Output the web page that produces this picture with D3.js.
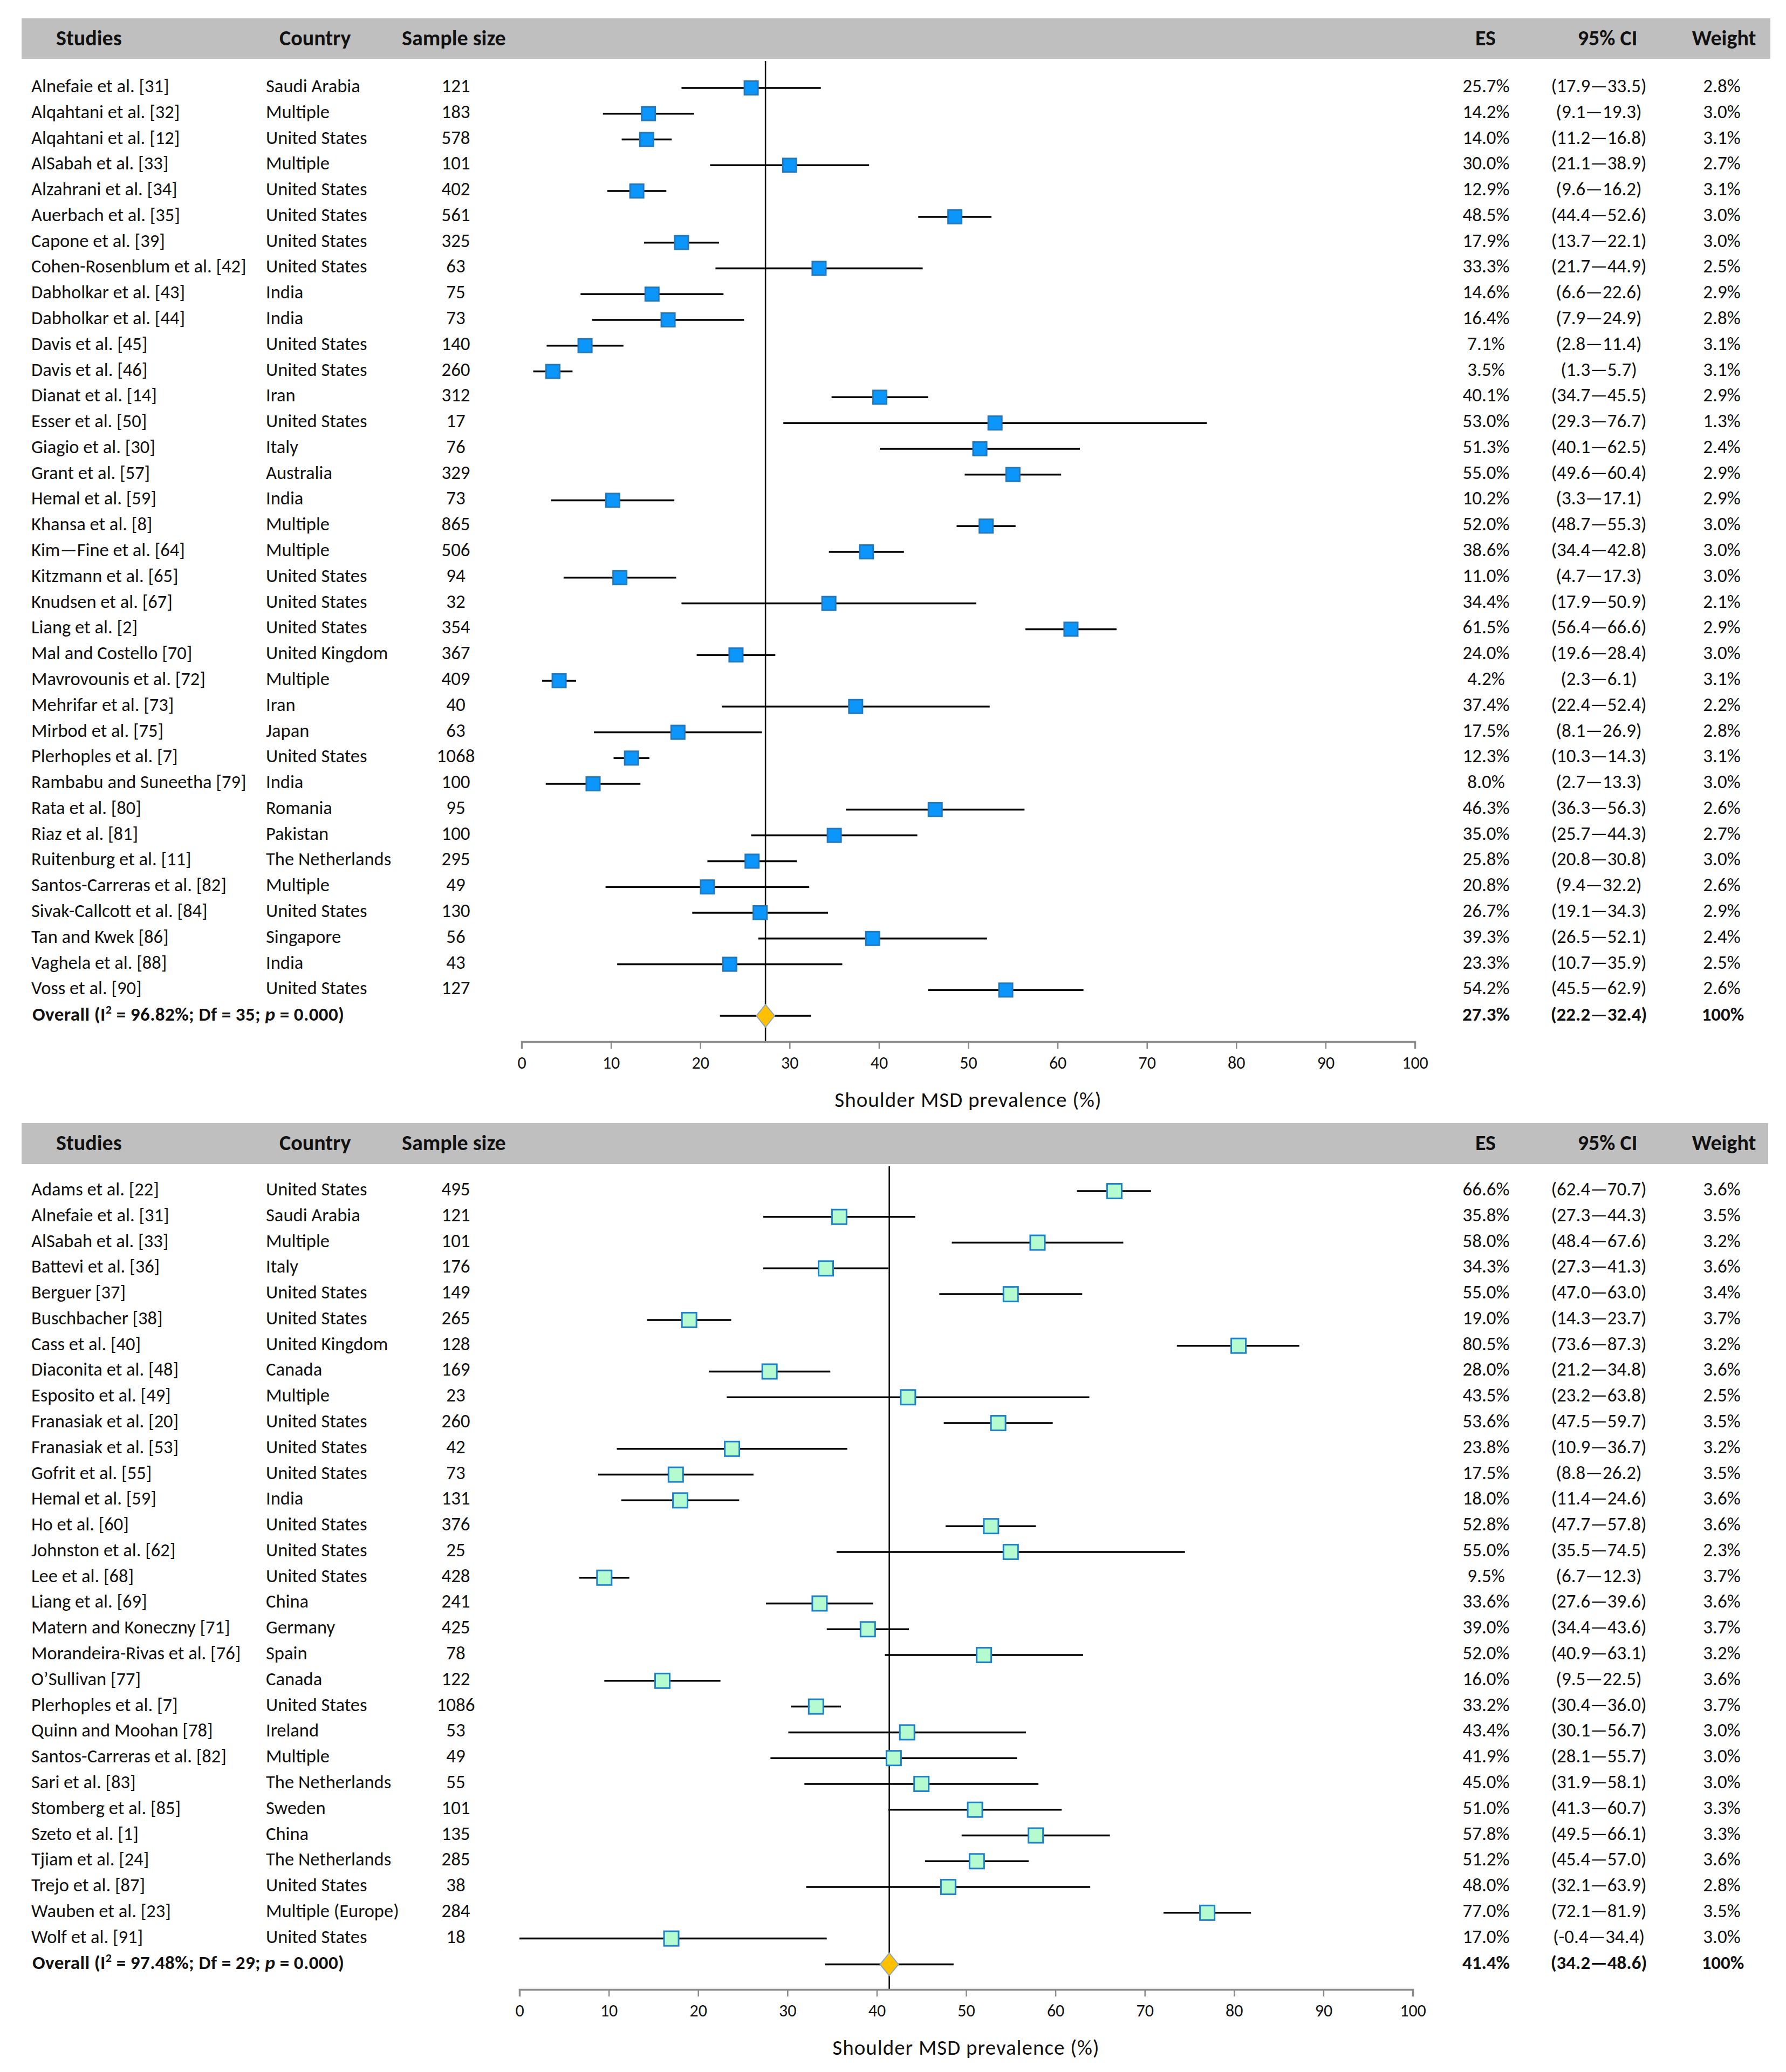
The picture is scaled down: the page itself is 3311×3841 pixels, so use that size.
<!DOCTYPE html>
<html>
<head>
<meta charset="utf-8">
<script src="https://cdn.jsdelivr.net/npm/d3@7"></script>
<style>
  body { margin: 0; background: #fff; }
  text { font-family: Carlito, Lato, sans-serif; fill: #111; }
</style>
</head>
<body>
<svg width="3311" height="3841"></svg>
<script>
// ---- panel 1 data ----
var studiesA = ["Alnefaie et al. [31]", "Alqahtani et al. [32]", "Alqahtani et al. [12]", "AlSabah et al. [33]",
  "Alzahrani et al. [34]", "Auerbach et al. [35]", "Capone et al. [39]", "Cohen-Rosenblum et al. [42]",
  "Dabholkar et al. [43]", "Dabholkar et al. [44]", "Davis et al. [45]", "Davis et al. [46]", "Dianat et al. [14]",
  "Esser et al. [50]", "Giagio  et al. [30]", "Grant et al. [57]", "Hemal et al. [59]", "Khansa et al. [8]",
  "Kim\u2014Fine et al. [64]", "Kitzmann et al. [65]", "Knudsen et al. [67]", "Liang et al. [2]",
  "Mal and Costello [70]", "Mavrovounis et al. [72]", "Mehrifar et al. [73]", "Mirbod et al. [75]",
  "Plerhoples et al. [7]", "Rambabu and Suneetha [79]", "Rata et al. [80]", "Riaz et al. [81]",
  "Ruitenburg et al. [11]", "Santos-Carreras et al. [82]", "Sivak-Callcott et al. [84]", "Tan and Kwek [86]",
  "Vaghela et al. [88]", "Voss et al. [90]"];
var countriesA = ["Saudi Arabia", "Multiple", "United States", "Multiple", "United States", "United States",
  "United States", "United States", "India", "India", "United States", "United States", "Iran", "United States",
  "Italy", "Australia", "India", "Multiple", "Multiple", "United States", "United States", "United States",
  "United Kingdom", "Multiple", "Iran", "Japan", "United States", "India", "Romania", "Pakistan",
  "The Netherlands", "Multiple", "United States", "Singapore", "India", "United States"];
var sizesA = [121, 183, 578, 101, 402, 561, 325, 63, 75, 73, 140, 260, 312, 17, 76, 329, 73, 865, 506, 94, 32,
  354, 367, 409, 40, 63, 1068, 100, 95, 100, 295, 49, 130, 56, 43, 127];
var esA = [25.7, 14.2, 14.0, 30.0, 12.9, 48.5, 17.9, 33.3, 14.6, 16.4, 7.1, 3.5, 40.1, 53.0, 51.3, 55.0, 10.2,
  52.0, 38.6, 11.0, 34.4, 61.5, 24.0, 4.2, 37.4, 17.5, 12.3, 8.0, 46.3, 35.0, 25.8, 20.8, 26.7, 39.3, 23.3, 54.2];
var loA = [17.9, 9.1, 11.2, 21.1, 9.6, 44.4, 13.7, 21.7, 6.6, 7.9, 2.8, 1.3, 34.7, 29.3, 40.1, 49.6, 3.3,
  48.7, 34.4, 4.7, 17.9, 56.4, 19.6, 2.3, 22.4, 8.1, 10.3, 2.7, 36.3, 25.7, 20.8, 9.4, 19.1, 26.5, 10.7, 45.5];
var hiA = [33.5, 19.3, 16.8, 38.9, 16.2, 52.6, 22.1, 44.9, 22.6, 24.9, 11.4, 5.7, 45.5, 76.7, 62.5, 60.4, 17.1,
  55.3, 42.8, 17.3, 50.9, 66.6, 28.4, 6.1, 52.4, 26.9, 14.3, 13.3, 56.3, 44.3, 30.8, 32.2, 34.3, 52.1, 35.9, 62.9];
var weightA = [2.8, 3.0, 3.1, 2.7, 3.1, 3.0, 3.0, 2.5, 2.9, 2.8, 3.1, 3.1, 2.9, 1.3, 2.4, 2.9, 2.9, 3.0, 3.0,
  3.0, 2.1, 2.9, 3.0, 3.1, 2.2, 2.8, 3.1, 3.0, 2.6, 2.7, 3.0, 2.6, 2.9, 2.4, 2.5, 2.6];
var overallA = { es: 27.3, lo: 22.2, hi: 32.4, i2: "96.82%", df: 35, p: "0.000" };

// ---- panel 2 data ----
var studiesB = ["Adams et al. [22]", "Alnefaie et al. [31]", "AlSabah et al. [33]", "Battevi et al. [36]",
  "Berguer [37]", "Buschbacher [38]", "Cass et al. [40]", "Diaconita et al. [48]", "Esposito et al. [49]",
  "Franasiak et al. [20]", "Franasiak et al. [53]", "Gofrit et al. [55]", "Hemal et al. [59]", "Ho et al. [60]",
  "Johnston et al. [62]", "Lee et al. [68]", "Liang et al. [69]", "Matern and Koneczny [71]",
  "Morandeira-Rivas et al. [76]", "O\u2019Sullivan [77]", "Plerhoples et al. [7]", "Quinn and Moohan [78]",
  "Santos-Carreras et al. [82]", "Sari et al. [83]", "Stomberg et al. [85]", "Szeto et al. [1]",
  "Tjiam et al. [24]", "Trejo et al. [87]", "Wauben et al. [23]", "Wolf et al. [91]"];
var countriesB = ["United States", "Saudi Arabia", "Multiple", "Italy", "United States", "United States",
  "United Kingdom", "Canada", "Multiple", "United States", "United States", "United States", "India",
  "United States", "United States", "United States", "China", "Germany", "Spain", "Canada", "United States",
  "Ireland", "Multiple", "The Netherlands", "Sweden", "China", "The Netherlands", "United States",
  "Multiple (Europe)", "United States"];
var sizesB = [495, 121, 101, 176, 149, 265, 128, 169, 23, 260, 42, 73, 131, 376, 25, 428, 241, 425, 78, 122,
  1086, 53, 49, 55, 101, 135, 285, 38, 284, 18];
var esB = [66.6, 35.8, 58.0, 34.3, 55.0, 19.0, 80.5, 28.0, 43.5, 53.6, 23.8, 17.5, 18.0, 52.8, 55.0, 9.5, 33.6,
  39.0, 52.0, 16.0, 33.2, 43.4, 41.9, 45.0, 51.0, 57.8, 51.2, 48.0, 77.0, 17.0];
var loB = [62.4, 27.3, 48.4, 27.3, 47.0, 14.3, 73.6, 21.2, 23.2, 47.5, 10.9, 8.8, 11.4, 47.7, 35.5, 6.7, 27.6,
  34.4, 40.9, 9.5, 30.4, 30.1, 28.1, 31.9, 41.3, 49.5, 45.4, 32.1, 72.1, -0.4];
var hiB = [70.7, 44.3, 67.6, 41.3, 63.0, 23.7, 87.3, 34.8, 63.8, 59.7, 36.7, 26.2, 24.6, 57.8, 74.5, 12.3, 39.6,
  43.6, 63.1, 22.5, 36.0, 56.7, 55.7, 58.1, 60.7, 66.1, 57.0, 63.9, 81.9, 34.4];
var weightB = [3.6, 3.5, 3.2, 3.6, 3.4, 3.7, 3.2, 3.6, 2.5, 3.5, 3.2, 3.5, 3.6, 3.6, 2.3, 3.7, 3.6, 3.7, 3.2,
  3.6, 3.7, 3.0, 3.0, 3.0, 3.3, 3.3, 3.6, 2.8, 3.5, 3.0];
var overallB = { es: 41.4, lo: 34.2, hi: 48.6, i2: "97.48%", df: 29, p: "0.000" };

var xTicks = [0, 10, 20, 30, 40, 50, 60, 70, 80, 90, 100];
var axisTitle = "Shoulder  MSD prevalence (%)";

var svg = d3.select("svg");
svg.append("rect").attr("width", 3311).attr("height", 3841).attr("fill", "#fff");

function drawPanel(cfg) {
  var g = svg.append("g");
  var x = d3.scaleLinear().domain([0, 100]).range([cfg.x0, cfg.x1]);
  var y = d3.scaleLinear().domain([0, 1]).range([cfg.row0, cfg.row0 + cfg.step]);

  // header band
  g.append("rect")
    .attr("x", 40).attr("y", cfg.headTop)
    .attr("width", cfg.headRight - 40).attr("height", cfg.headBottom - cfg.headTop)
    .attr("fill", "#bfbfbf");
  var hy = cfg.headTop + 50;
  var heads = [["Studies", 104, "start"], ["Country", 518, "start"], ["Sample size", 745, "start"],
    ["ES", 2754, "middle"], ["95% CI", 2980, "middle"], ["Weight", 3196, "middle"]];
  g.selectAll(".head").data(heads).enter().append("text")
    .attr("x", (d) => d[1])
    .attr("y", hy)
    .attr("text-anchor", (d) => d[2])
    .attr("font-size", 40).attr("font-weight", "bold")
    .text((d) => d[0]);

  // reference line through overall estimate
  g.append("line")
    .attr("x1", x(cfg.overall.es)).attr("x2", x(cfg.overall.es))
    .attr("y1", cfg.headBottom + 4).attr("y2", cfg.axisY)
    .attr("stroke", "#000").attr("stroke-width", 2.5);

  // axis
  var axis = d3.axisBottom(x).tickValues(xTicks).tickSize(13).tickPadding(14);
  var ag = g.append("g").attr("transform", "translate(0," + cfg.axisY + ")").call(axis);
  ag.select(".domain").attr("stroke", "#8c8c8c").attr("stroke-width", 3.5);
  ag.selectAll(".tick line").attr("stroke", "#8c8c8c").attr("stroke-width", 2.5);
  ag.selectAll(".tick text").attr("font-size", 32).attr("fill", "#111")
    .style("font-family", "Carlito, Lato, sans-serif");
  g.append("text")
    .attr("x", (cfg.x0 + cfg.x1) / 2).attr("y", cfg.axisY + 121)
    .attr("text-anchor", "middle").attr("font-size", 39).attr("letter-spacing", 1)
    .text(axisTitle);

  var idx = d3.range(cfg.studies.length);
  var rowsG = g.selectAll(".row").data(idx).enter().append("g");
  var ty = (i) => y(i) + 8;
  rowsG.append("text").attr("x", 58).attr("y", ty).attr("font-size", 34.5)
    .text((i) => cfg.studies[i]);
  rowsG.append("text").attr("x", 493).attr("y", ty).attr("font-size", 34.5)
    .text((i) => cfg.countries[i]);
  rowsG.append("text").attr("x", 845).attr("y", ty).attr("font-size", 35).attr("text-anchor", "middle")
    .text((i) => cfg.sizes[i]);
  rowsG.append("text").attr("x", 2755).attr("y", ty).attr("font-size", 35).attr("text-anchor", "middle")
    .text((i) => cfg.es[i].toFixed(1) + "%");
  rowsG.append("text").attr("x", 2964).attr("y", ty).attr("font-size", 35).attr("text-anchor", "middle")
    .text((i) => "(" + cfg.lo[i].toFixed(1) + "\u2014" + cfg.hi[i].toFixed(1) + ")");
  rowsG.append("text").attr("x", 3192).attr("y", ty).attr("font-size", 35).attr("text-anchor", "middle")
    .text((i) => cfg.weight[i].toFixed(1) + "%");

  // CI whiskers
  rowsG.append("line")
    .attr("x1", (i) => x(Math.max(0, cfg.lo[i]))).attr("x2", (i) => x(Math.min(100, cfg.hi[i])))
    .attr("y1", (i) => y(i)).attr("y2", (i) => y(i))
    .attr("stroke", "#000").attr("stroke-width", 3.5);
  // markers
  var ms = cfg.markerSize;
  rowsG.append("rect")
    .attr("x", (i) => x(cfg.es[i]) - ms / 2).attr("y", (i) => y(i) - ms / 2)
    .attr("width", ms).attr("height", ms)
    .attr("fill", cfg.fill).attr("stroke", cfg.stroke).attr("stroke-width", 3);

  // overall row
  var n = cfg.studies.length;
  var oy = y(n);
  var o = cfg.overall;
  g.append("line")
    .attr("x1", x(o.lo)).attr("x2", x(o.hi)).attr("y1", oy).attr("y2", oy)
    .attr("stroke", "#000").attr("stroke-width", 3.5);
  var cx = x(o.es);
  g.append("path")
    .attr("d", "M" + cx + "," + (oy - 21) + "L" + (cx + 17) + "," + oy + "L" + cx + "," + (oy + 21) +
      "L" + (cx - 17) + "," + oy + "Z")
    .attr("fill", "#ffc000").attr("stroke", "#8ea7bd").attr("stroke-width", 2);
  var ot = g.append("text").attr("x", 60).attr("y", oy + 9).attr("font-size", 35).attr("font-weight", "bold")
    .attr("letter-spacing", 0.4);
  ot.append("tspan").text("Overall (I");
  ot.append("tspan").attr("font-size", 22).attr("dy", -13).text("2");
  ot.append("tspan").attr("dy", 13).text(" = " + o.i2 + "; Df = " + o.df + "; ");
  ot.append("tspan").attr("font-style", "italic").text("p");
  ot.append("tspan").text(" = " + o.p + ")");
  g.append("text").attr("x", 2755).attr("y", oy + 9).attr("font-size", 35).attr("font-weight", "bold")
    .attr("text-anchor", "middle").text(o.es.toFixed(1) + "%");
  g.append("text").attr("x", 2964).attr("y", oy + 9).attr("font-size", 35).attr("font-weight", "bold")
    .attr("text-anchor", "middle").text("(" + o.lo.toFixed(1) + "\u2014" + o.hi.toFixed(1) + ")");
  g.append("text").attr("x", 3194).attr("y", oy + 9).attr("font-size", 35).attr("font-weight", "bold")
    .attr("text-anchor", "middle").text("100%");
}

drawPanel({
  studies: studiesA, countries: countriesA, sizes: sizesA, es: esA, lo: loA, hi: hiA, weight: weightA,
  overall: overallA, headTop: 34, headBottom: 109, headRight: 3282, row0: 163, step: 47.78,
  axisY: 1931, x0: 967, x1: 2623, markerSize: 25, fill: "#0a96fa", stroke: "#2379bd"
});
drawPanel({
  studies: studiesB, countries: countriesB, sizes: sizesB, es: esB, lo: loB, hi: hiB, weight: weightB,
  overall: overallB, headTop: 2082, headBottom: 2158, headRight: 3278, row0: 2208, step: 47.78,
  axisY: 3688, x0: 963, x1: 2619, markerSize: 27, fill: "#b4fccf", stroke: "#1f80c6"
});
</script>
</body>
</html>
